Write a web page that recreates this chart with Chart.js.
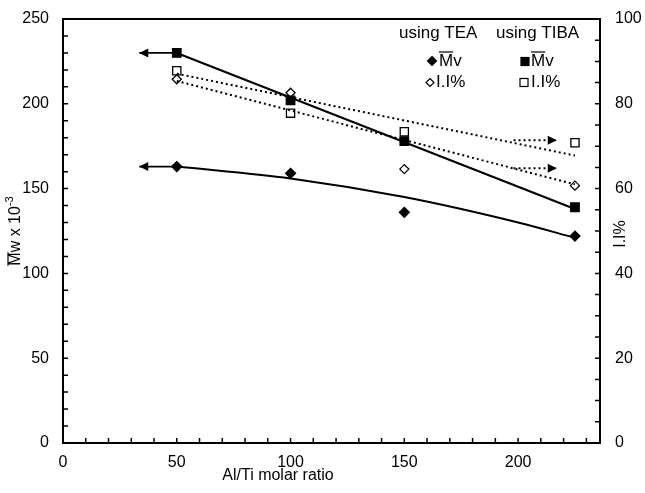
<!DOCTYPE html>
<html>
<head>
<meta charset="utf-8">
<script src="https://cdn.jsdelivr.net/npm/chart.js@4"></script>
<style>
  html, body { margin: 0; background: #fff; }
  #wrap { width: 645px; height: 493px; }
</style>
</head>
<body>
<div id="wrap"><canvas id="c"></canvas></div>
<script>
// measured points
const ratios = [50, 100, 150, 225];
const mvTEA = [163, 159, 136, 122];
const mvTIBA = [230, 202, 178, 139];
const iiTEA = [85.8, 82.6, 64.6, 60.7];
const iiTIBA = [87.8, 77.8, 73.4, 70.8];

// trend lines as drawn in the figure
const fitMvTIBAx = [50, 225];
const fitMvTIBA = [230, 138];
const fitMvTEAx = [50, 100, 150, 200, 225];
const fitMvTEA = [163, 156, 145, 130, 121];
const fitIIx = [50, 225];
const fitIITIBA = [87.1, 67.8];
const fitIITEA = [85.4, 61.0];

// arrows pointing at the axis a series belongs to
const arrowLeftX = [50, 33.5];
const arrowRightX = [198, 217];
const arrowRightTIBA = [71.4, 71.4];
const arrowRightTEA = [64.8, 64.8];

const FONT = 'Liberation Sans';
const pts = (xs, ys) => xs.map((x, i) => ({ x: x, y: ys[i] }));

const marker = (style, filled, radius) => ({
  showLine: false,
  pointStyle: style,
  pointRadius: radius,
  pointHoverRadius: radius,
  pointBackgroundColor: filled ? '#000' : '#fff',
  pointBorderColor: '#000',
  pointBorderWidth: 1.3
});

const line = (width, dash) => ({
  showLine: true,
  pointRadius: 0,
  pointHoverRadius: 0,
  borderColor: '#000',
  borderWidth: width,
  borderDash: dash || []
});

// draws the arrow heads, inward ticks, top frame, titles and legend
const decor = {
  id: 'decor',
  afterDatasetsDraw(chart) {
    const ctx = chart.ctx;
    chart.data.datasets.forEach((ds, i) => {
      if (!ds.arrow) return;
      const el = chart.getDatasetMeta(i).data;
      const a = el[el.length - 2], b = el[el.length - 1];
      const ang = Math.atan2(b.y - a.y, b.x - a.x);
      ctx.save();
      ctx.translate(b.x, b.y);
      ctx.rotate(ang);
      ctx.fillStyle = '#000';
      ctx.beginPath();
      ctx.moveTo(0, 0);
      ctx.lineTo(-9, -4.5);
      ctx.lineTo(-9, 4.5);
      ctx.closePath();
      ctx.fill();
      ctx.restore();
    });
  },
  afterDraw(chart) {
    const ctx = chart.ctx;
    const { left, right, top, bottom } = chart.chartArea;
    const sx = chart.scales.x, sy = chart.scales.y, sy1 = chart.scales.y1;
    ctx.save();
    ctx.strokeStyle = '#000';
    ctx.lineWidth = 2;
    ctx.beginPath();
    ctx.moveTo(left - 1, top);
    ctx.lineTo(right + 1, top);
    ctx.stroke();
    ctx.lineWidth = 1.5;
    ctx.beginPath();
    for (let v = 10; v < sx.max; v += 10) {
      const px = sx.getPixelForValue(v);
      ctx.moveTo(px, bottom);
      ctx.lineTo(px, bottom - 5);
    }
    for (let v = 10; v < sy.max; v += 10) {
      const py = sy.getPixelForValue(v);
      ctx.moveTo(left, py);
      ctx.lineTo(left + 5, py);
    }
    for (let v = 5; v < sy1.max; v += 5) {
      const py = sy1.getPixelForValue(v);
      ctx.moveTo(right, py);
      ctx.lineTo(right - 5, py);
    }
    ctx.stroke();

    ctx.fillStyle = '#000';
    ctx.textBaseline = 'middle';
    // x title
    ctx.font = '16px ' + FONT;
    ctx.textAlign = 'center';
    ctx.fillText('Al/Ti molar ratio', 278, 476);

    // left title, rotated
    ctx.save();
    ctx.translate(16, (top + bottom) / 2);
    ctx.rotate(-Math.PI / 2);
    const main = 'Mw x 10', sup = '-3';
    ctx.font = '16px ' + FONT;
    const wMain = ctx.measureText(main).width;
    ctx.font = '11px ' + FONT;
    const wSup = ctx.measureText(sup).width;
    let x0 = -(wMain + wSup) / 2;
    ctx.textAlign = 'left';
    ctx.font = '16px ' + FONT;
    ctx.fillText(main, x0, 0);
    const wM = ctx.measureText('M').width;
    ctx.lineWidth = 1.2;
    ctx.beginPath();
    ctx.moveTo(x0, -8);
    ctx.lineTo(x0 + wM, -8);
    ctx.stroke();
    ctx.font = '11px ' + FONT;
    ctx.fillText(sup, x0 + wMain, -6);
    ctx.restore();

    // right title, rotated
    ctx.save();
    ctx.translate(621, (top + bottom) / 2 + 3);
    ctx.rotate(-Math.PI / 2);
    ctx.font = '16px ' + FONT;
    ctx.textAlign = 'center';
    ctx.fillText('I.I%', 0, 0);
    ctx.restore();

    // legend
    ctx.font = '17px ' + FONT;
    ctx.textAlign = 'left';
    ctx.fillText('using TEA', 399, 33);
    ctx.fillText('using TIBA', 496, 33);
    const mvText = (x, y) => {
      ctx.fillText('Mv', x, y);
      const w = ctx.measureText('M').width;
      ctx.lineWidth = 1.2;
      ctx.beginPath();
      ctx.moveTo(x, y - 9);
      ctx.lineTo(x + w, y - 9);
      ctx.stroke();
    };
    const diamond = (x, y, r, filled) => {
      ctx.beginPath();
      ctx.moveTo(x, y - r);
      ctx.lineTo(x + r, y);
      ctx.lineTo(x, y + r);
      ctx.lineTo(x - r, y);
      ctx.closePath();
      ctx.fillStyle = filled ? '#000' : '#fff';
      ctx.fill();
      ctx.lineWidth = 1.2;
      ctx.stroke();
      ctx.fillStyle = '#000';
    };
    const square = (x, y, h, filled) => {
      ctx.fillStyle = filled ? '#000' : '#fff';
      ctx.fillRect(x - h, y - h, 2 * h, 2 * h);
      ctx.lineWidth = 1.2;
      ctx.strokeRect(x - h, y - h, 2 * h, 2 * h);
      ctx.fillStyle = '#000';
    };
    diamond(432, 61, 4.5, true);
    mvText(439, 61);
    square(525, 61.5, 4, true);
    mvText(531, 61);
    diamond(430, 82.5, 4, false);
    ctx.fillText('I.I%', 436, 82.5);
    square(524, 82.5, 4, false);
    ctx.fillText('I.I%', 531, 82.5);
    ctx.restore();
  }
};

const fitY = (w) => (s) => { s.width = w; s.paddingTop = 0; s.paddingBottom = 0; };

new Chart(document.getElementById('c'), {
  type: 'scatter',
  data: {
    datasets: [
      { ...line(2.2), data: pts(fitMvTIBAx, fitMvTIBA), yAxisID: 'y' },
      { ...line(2), data: pts(fitMvTEAx, fitMvTEA), yAxisID: 'y', cubicInterpolationMode: 'monotone' },
      { ...line(2, [2, 3]), data: pts(fitIIx, fitIITIBA), yAxisID: 'y1' },
      { ...line(2, [2, 3]), data: pts(fitIIx, fitIITEA), yAxisID: 'y1' },
      { ...line(1.8), arrow: true, data: pts(arrowLeftX, [fitMvTIBA[0], fitMvTIBA[0]]), yAxisID: 'y' },
      { ...line(1.8), arrow: true, data: pts(arrowLeftX, [fitMvTEA[0], fitMvTEA[0]]), yAxisID: 'y' },
      { ...line(2, [2, 3]), arrow: true, data: pts(arrowRightX, arrowRightTIBA), yAxisID: 'y1' },
      { ...line(2, [2, 3]), arrow: true, data: pts(arrowRightX, arrowRightTEA), yAxisID: 'y1' },
      { ...marker('rect', true, 6), data: pts(ratios, mvTIBA), yAxisID: 'y' },
      { ...marker('rectRot', true, 5), data: pts(ratios, mvTEA), yAxisID: 'y' },
      { ...marker('rect', false, 5.8), data: pts(ratios, iiTIBA), yAxisID: 'y1' },
      { ...marker('rectRot', false, 4.5), data: pts(ratios, iiTEA), yAxisID: 'y1' }
    ]
  },
  options: {
    responsive: true,
    maintainAspectRatio: false,
    animation: false,
    layout: { padding: { left: 0, right: 0, top: 19, bottom: 0 } },
    plugins: { legend: { display: false }, tooltip: { enabled: false } },
    scales: {
      x: {
        type: 'linear',
        min: 0, max: 236,
        afterFit: (s) => { s.height = 50; s.paddingLeft = 0; s.paddingRight = 0; },
        grid: { display: false, drawTicks: false },
        border: { display: true, color: '#000', width: 2 },
        ticks: { stepSize: 50, includeBounds: false, padding: 10, color: '#000', font: { family: FONT, size: 16 } }
      },
      y: {
        position: 'left',
        min: 0, max: 250,
        afterFit: fitY(63),
        grid: { display: false, drawTicks: false },
        border: { display: true, color: '#000', width: 2 },
        ticks: { stepSize: 50, padding: 14, color: '#000', font: { family: FONT, size: 16 } }
      },
      y1: {
        position: 'right',
        min: 0, max: 100,
        afterFit: fitY(45),
        grid: { display: false, drawTicks: false },
        border: { display: true, color: '#000', width: 2 },
        ticks: { stepSize: 20, padding: 15, color: '#000', font: { family: FONT, size: 16 } }
      }
    }
  },
  plugins: [decor]
});
</script>
</body>
</html>
